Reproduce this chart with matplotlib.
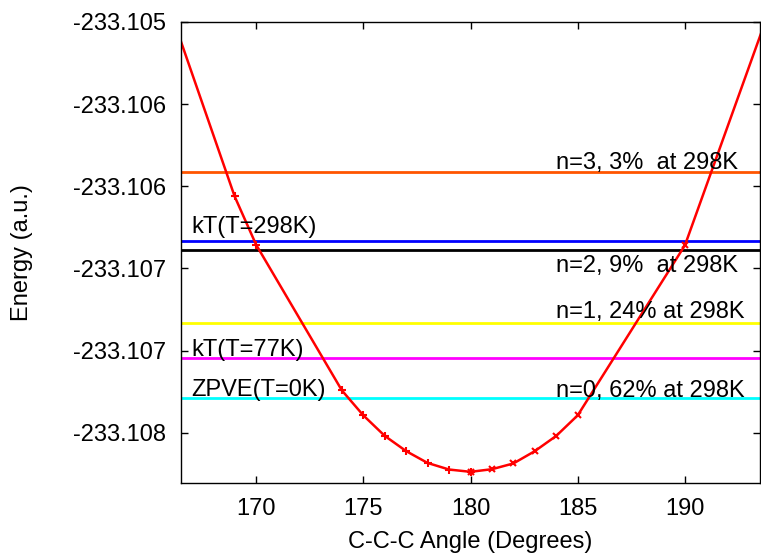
import matplotlib
matplotlib.use("Agg")
import matplotlib.pyplot as plt

plt.rcParams['font.family'] = ['Liberation Sans', 'DejaVu Sans']

# scan points, left half (+) and right half (x)
left_angle = [164, 169, 170, 174, 175, 176, 177, 178, 179, 180]
left_energy = [-233.104178, -233.106061, -233.106355, -233.107242, -233.107394,
               -233.107519, -233.107612, -233.107684, -233.107724, -233.107738]
right_angle = [180, 181, 182, 183, 184, 185, 190, 196]
right_energy = [-233.107738, -233.107722, -233.107687, -233.107612,
                -233.107519, -233.107394, -233.106359, -233.104178]

# horizontal levels
levels = [-233.105913, -233.106330, -233.106385, -233.106831, -233.107045, -233.107286]
level_colors = ['#ff5500', '#0000ff', '#000000', '#ffff00', '#ff00ff', '#00ffff']

left_labels = ['kT(T=298K)', 'kT(T=77K)', 'ZPVE(T=0K)']
left_label_y = [-233.106284, -233.107032, -233.107278]
right_labels = ['n=3, 3%  at 298K', 'n=2, 9%  at 298K', 'n=1, 24% at 298K', 'n=0, 62% at 298K']
right_label_y = [-233.105893, -233.106521, -233.106804, -233.107282]

xticks = [170, 175, 180, 185, 190]
yticks = [-233.1050, -233.1055, -233.1060, -233.1065, -233.1070, -233.1075]
ytick_labels = ['-233.105', '-233.106', '-233.106', '-233.107', '-233.107', '-233.108']

fs = 17

fig = plt.figure(figsize=(7.61, 5.57), dpi=100)
ax = fig.add_axes([181 / 761, 1 - 483 / 557, 579 / 761, 461 / 557])

for y, c in zip(levels, level_colors):
    ax.axhline(y, color=c, lw=2.0)

ax.plot(left_angle, left_energy, color='red', lw=1.8, marker='+', ms=6, mew=1.5)
ax.plot(right_angle, right_energy, color='red', lw=1.8, marker='x', ms=5, mew=1.5)

for t, y in zip(left_labels, left_label_y):
    ax.text(167, y, t, fontsize=fs, ha='left', va='baseline')
for t, y in zip(right_labels, right_label_y):
    ax.text(184, y, t, fontsize=fs, ha='left', va='baseline')

ax.set_xlim(166.5, 193.5)
ax.set_ylim(-233.107806, -233.105)
ax.set_xticks(xticks)
ax.set_yticks(yticks)
ax.set_yticklabels(ytick_labels)
ax.tick_params(direction='in', top=True, right=True, length=5, width=1,
               labelsize=fs, pad=11)
for s in ax.spines.values():
    s.set_linewidth(1.0)

ax.set_xlabel('C-C-C Angle (Degrees)', fontsize=fs)
ax.set_ylabel('Energy (a.u.)', fontsize=fs)
ax.xaxis.set_label_coords(0.5, -0.104)
ax.yaxis.set_label_coords(-0.255, 0.5)

fig.savefig('out.png', dpi=100)
